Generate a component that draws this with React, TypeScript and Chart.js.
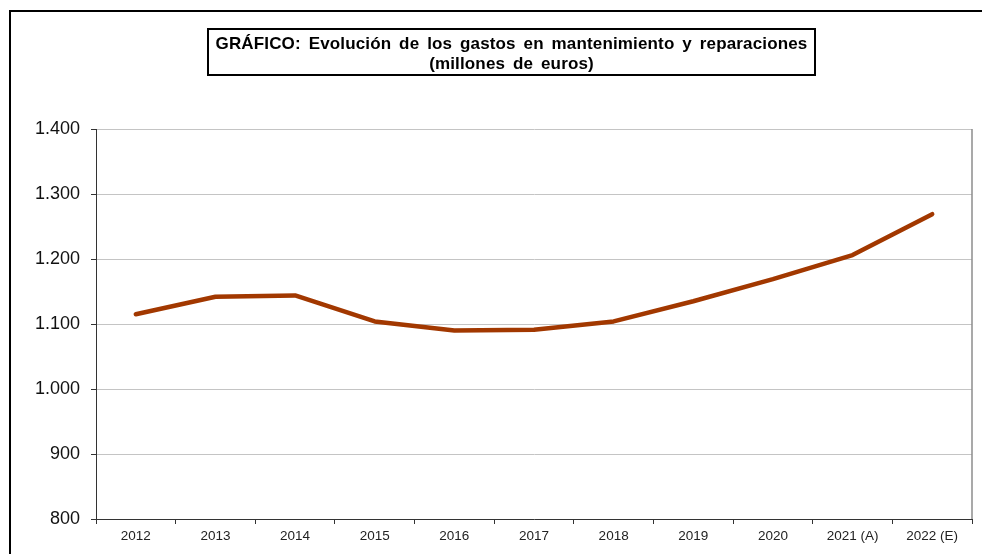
import React, { useEffect, useRef } from "react";
import { Chart, registerables } from "chart.js";

Chart.register(...registerables);

const categories = ["2012", "2013", "2014", "2015", "2016", "2017", "2018", "2019", "2020", "2021 (A)", "2022 (E)"];
const gastos = [1115, 1142, 1144, 1104, 1090, 1091, 1104, 1135, 1169, 1206, 1269];
const titleLine1 = "GRÁFICO: Evolución de los gastos en mantenimiento y reparaciones";
const titleLine2 = "(millones de euros)";
const yMin = 800;
const yMax = 1400;
const yStep = 100;

const FONT = "'Liberation Sans', Arial, sans-serif";

const fmt = (v: number) => {
  const s = Math.round(v).toString();
  return s.replace(/\B(?=(\d{3})+(?!\d))/g, ".");
};

const framePlugin = {
  id: "framePlugin",
  afterDraw(chart: any) {
    const ctx = chart.ctx;
    const area = chart.chartArea;
    ctx.save();
    ctx.strokeStyle = "#000";
    ctx.lineWidth = 2;
    ctx.strokeRect(10, 11, 1100, 700);
    ctx.strokeStyle = "#8c8c8c";
    ctx.lineWidth = 1.5;
    ctx.beginPath();
    ctx.moveTo(area.right, area.top);
    ctx.lineTo(area.right, area.bottom);
    ctx.stroke();
    ctx.restore();
  },
};

export default function App() {
  const ref = useRef<HTMLCanvasElement | null>(null);

  useEffect(() => {
    if (!ref.current) return;
    const chart = new Chart(ref.current, {
      type: "line",
      data: {
        labels: categories,
        datasets: [
          {
            data: gastos,
            borderColor: "#A23800",
            backgroundColor: "#A23800",
            borderWidth: 4.5,
            pointRadius: 0,
            tension: 0,
            borderCapStyle: "round",
            borderJoinStyle: "round",
          },
        ],
      },
      options: {
        responsive: false,
        animation: false,
        layout: { padding: { left: 0, right: 10, top: 129, bottom: 0 } },
        plugins: {
          legend: { display: false },
          tooltip: { enabled: false },
          title: { display: false },
        },
        scales: {
          x: {
            type: "category",
            offset: true,
            afterFit: (s: any) => {
              s.height = 35;
            },
            grid: {
              offset: true,
              drawOnChartArea: false,
              drawTicks: true,
              tickLength: 5,
              tickColor: "#333",
            },
            border: { color: "#333", width: 1 },
            ticks: {
              color: "#222",
              font: { family: FONT, size: 13.5 },
              padding: 4,
              maxRotation: 0,
              autoSkip: false,
            },
          },
          y: {
            min: yMin,
            max: yMax,
            afterFit: (s: any) => {
              s.width = 96;
            },
            grid: {
              color: "#c4c4c4",
              lineWidth: 1,
              tickLength: 5,
              tickColor: "#333",
            },
            border: { color: "#333", width: 1 },
            ticks: {
              stepSize: yStep,
              color: "#111",
              font: { family: FONT, size: 18 },
              padding: 11,
              callback: (v: any) => fmt(Number(v)),
            },
          },
        },
      },
      plugins: [framePlugin],
    } as any);
    return () => chart.destroy();
  }, []);

  return (
    <div style={{ position: "absolute", left: 0, top: 0, width: 982, height: 554, background: "#fff", overflow: "hidden" }}>
      <canvas ref={ref} width={982} height={554} style={{ display: "block" }} />
      <div
        style={{
          position: "absolute",
          left: 207,
          top: 28,
          width: 609,
          height: 48,
          boxSizing: "border-box",
          border: "2px solid #000",
          fontFamily: FONT,
          fontWeight: "bold",
          fontSize: 17,
          letterSpacing: 0.15,
          wordSpacing: 3,
          lineHeight: "20px",
          textAlign: "center",
          color: "#000",
          paddingTop: 4,
          whiteSpace: "nowrap",
        }}
      >
        <div>{titleLine1}</div>
        <div>{titleLine2}</div>
      </div>
    </div>
  );
}
